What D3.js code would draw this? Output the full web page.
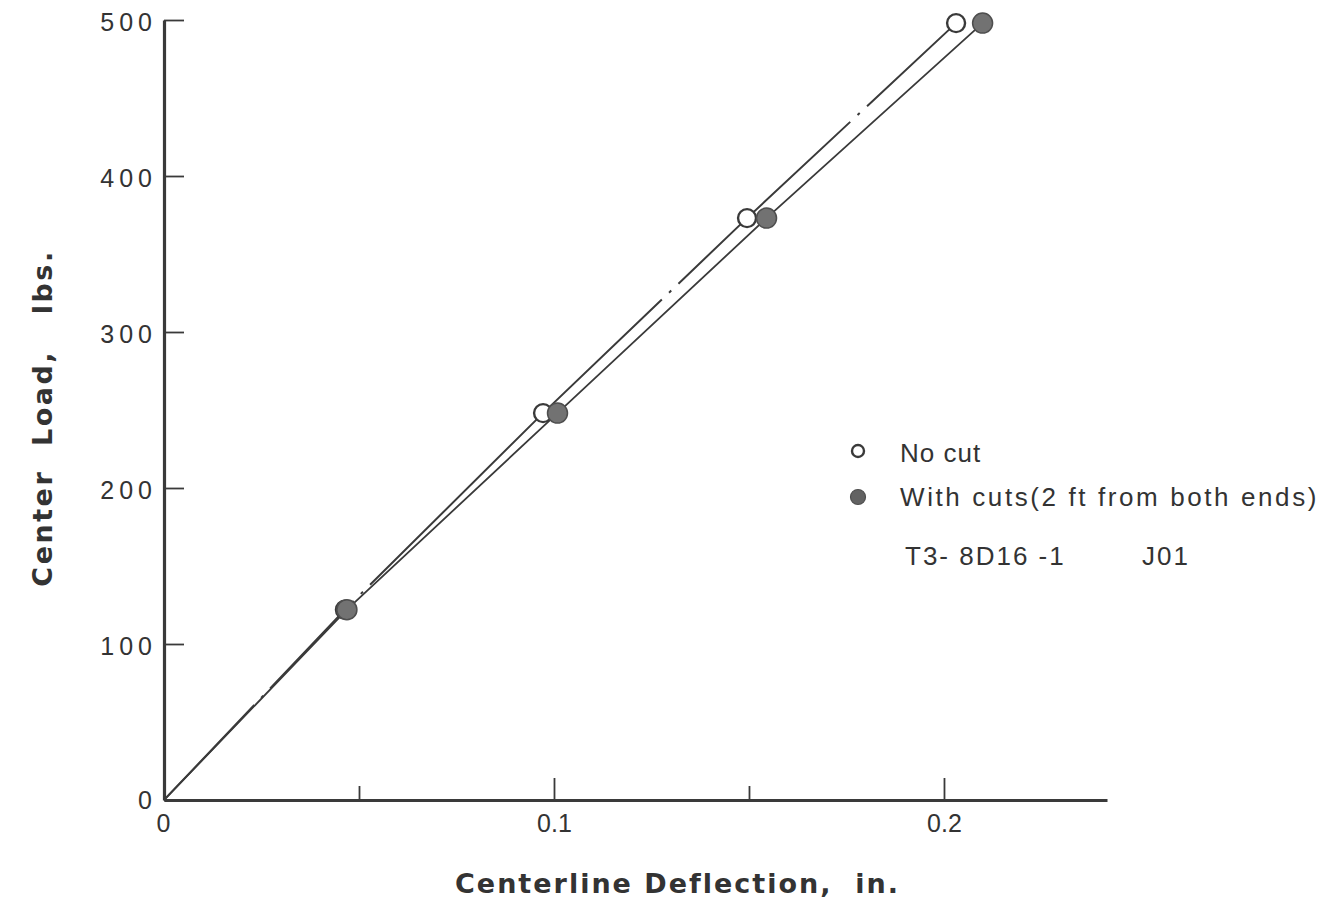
<!DOCTYPE html>
<html>
<head>
<meta charset="utf-8">
<script src="https://cdn.jsdelivr.net/npm/d3@7"></script>
<style>
  body { margin: 0; background: #fff; }
  svg text { fill: #333; white-space: pre; }
</style>
</head>
<body>
<svg id="chart" width="1322" height="912"></svg>
<script>
// data
const loadLevels = [0, 122, 248, 373, 498];
const deflNoCut = [0, 0.0464, 0.0972, 0.1495, 0.2031];
const deflWithCuts = [0, 0.0469, 0.1009, 0.1545, 0.2099];
const yTicks = [0, 100, 200, 300, 400, 500];
const xTicks = [0, 0.05, 0.1, 0.15, 0.2];
const xTickLabels = {0: '0', 0.1: '0.1', 0.2: '0.2'};
const legendLabels = ['No cut', 'With cuts(2 ft from both ends)'];
const specimenLabel = ['T3- 8D16 -1', 'J01'];

const svg = d3.select('#chart');
const ink = '#3a3a3a';

const x = d3.scaleLinear().domain([0, 0.2418]).range([164, 1107]);
const y = d3.scaleLinear().domain([0, 500]).range([800, 20]);

// y axis, ticks pointing inward
const yAxis = svg.append('g')
  .attr('transform', `translate(${x(0)},0)`)
  .call(d3.axisLeft(y).tickValues(yTicks).tickSizeInner(-20).tickSizeOuter(0).tickPadding(7));
yAxis.select('.domain').attr('stroke', ink).attr('stroke-width', 3.2);
yAxis.selectAll('.tick line').attr('stroke', ink).attr('stroke-width', 1.8);
yAxis.selectAll('.tick text')
  .attr('font-family', 'Liberation Sans, Arial, sans-serif')
  .attr('font-size', 25).attr('letter-spacing', 5).attr('fill', '#333').attr('dy', '0.4em');
yAxis.selectAll('.tick').filter(d => d === 0).select('text').attr('dy', '0.35em');

// x axis, long ticks at 0.1 steps, short in between
const xAxis = svg.append('g')
  .attr('transform', `translate(0,${y(0)})`)
  .call(d3.axisBottom(x).tickValues(xTicks).tickSizeInner(-20).tickSizeOuter(0)
    .tickPadding(12).tickFormat(d => xTickLabels[d] || ''));
xAxis.select('.domain').attr('stroke', ink).attr('stroke-width', 3.2);
xAxis.selectAll('.tick line').attr('stroke', ink).attr('stroke-width', 1.8)
  .attr('y2', d => (d === 0 ? 0 : (Math.round(d * 100) % 10 === 0 ? -22 : -14)));
xAxis.selectAll('.tick text')
  .attr('font-family', 'Liberation Sans, Arial, sans-serif')
  .attr('font-size', 25).attr('fill', '#333').attr('dy', '0.8em');
xAxis.selectAll('.tick').filter(d => d === 0).select('text').attr('dx', -1);

// axis titles
svg.append('text')
  .attr('transform', `translate(52,418) rotate(-90)`)
  .attr('text-anchor', 'middle')
  .attr('font-family', 'DejaVu Sans, sans-serif').attr('font-weight', 'bold')
  .attr('font-size', 27).attr('letter-spacing', 2.5).attr('fill', '#505050')
  .text('Center  Load,   lbs.');
svg.append('text')
  .attr('x', 455).attr('y', 893)
  .attr('font-family', 'DejaVu Sans, sans-serif').attr('font-weight', 'bold')
  .attr('font-size', 27).attr('letter-spacing', 2).attr('fill', '#505050')
  .text('Centerline Deflection,  in.');

const line = d3.line().x(d => x(d[0])).y(d => y(d[1]));
const noCut = deflNoCut.map((d, i) => [d, loadLevels[i]]);
const withCuts = deflWithCuts.map((d, i) => [d, loadLevels[i]]);

// with cuts: solid
svg.append('path').datum(withCuts)
  .attr('d', line).attr('fill', 'none')
  .attr('stroke', ink).attr('stroke-width', 1.8);

// no cut: long dash with occasional dot
svg.append('path').datum(noCut)
  .attr('d', line).attr('fill', 'none')
  .attr('stroke', ink).attr('stroke-width', 2)
  .attr('stroke-dasharray', '131,10,3,10,121,10,3,10,408,10,3,10,236,10,3,10,600');

// markers
svg.selectAll('.open').data(noCut.slice(1)).join('circle')
  .attr('class', 'open')
  .attr('cx', d => x(d[0])).attr('cy', d => y(d[1])).attr('r', 9)
  .attr('fill', '#fff').attr('stroke', ink).attr('stroke-width', 2.4);
svg.selectAll('.filled').data(withCuts.slice(1)).join('circle')
  .attr('class', 'filled')
  .attr('cx', d => x(d[0])).attr('cy', d => y(d[1])).attr('r', 10)
  .attr('fill', '#727272').attr('stroke', '#4e4e4e').attr('stroke-width', 1.5);

// legend
const legend = svg.append('g').attr('font-family', 'Liberation Sans, Arial, sans-serif')
  .attr('font-size', 26);
legend.append('circle').attr('cx', 858).attr('cy', 451).attr('r', 6)
  .attr('fill', '#fff').attr('stroke', ink).attr('stroke-width', 2.4);
legend.append('circle').attr('cx', 858).attr('cy', 497).attr('r', 7.5)
  .attr('fill', '#626262').attr('stroke', '#4e4e4e').attr('stroke-width', 1.2);
legend.append('text').attr('x', 900).attr('y', 462).attr('letter-spacing', 1).text(legendLabels[0]);
legend.append('text').attr('x', 900).attr('y', 506).attr('letter-spacing', 2.6).text(legendLabels[1]);
legend.append('text').attr('x', 905).attr('y', 565).attr('letter-spacing', 2).text(specimenLabel[0]);
legend.append('text').attr('x', 1142).attr('y', 565).attr('letter-spacing', 2).text(specimenLabel[1]);
</script>
</body>
</html>
